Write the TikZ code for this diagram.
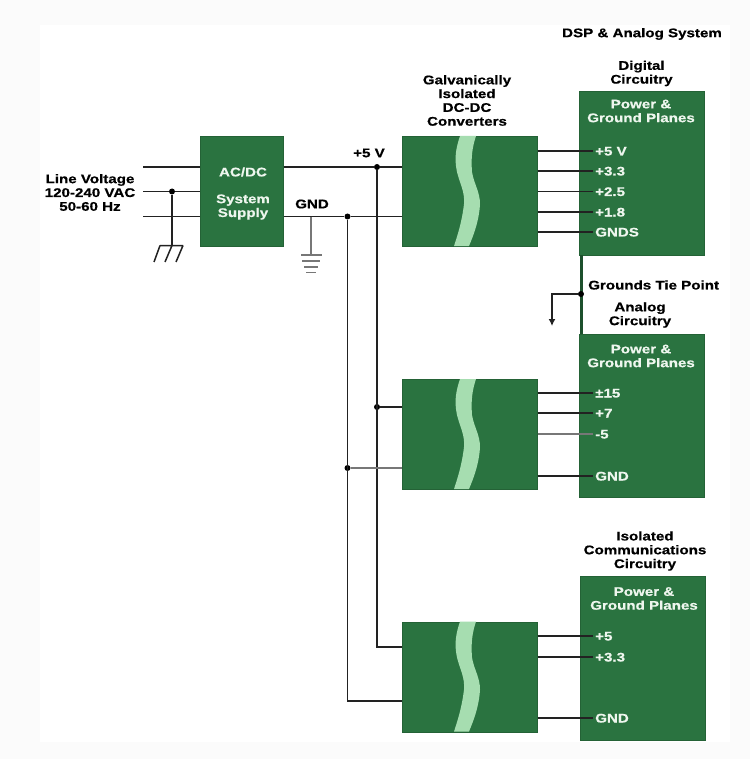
\documentclass[tikz,border=0pt]{standalone}
\usepackage{fontspec}
\setmainfont{Liberation Sans}[BoldFeatures={FakeStretch=1.21,FakeBold=0.6}]
\usetikzlibrary{arrows.meta,calc}
\definecolor{boxgreen}{HTML}{2A7340}
\definecolor{wavegreen}{HTML}{A6DDB0}
\definecolor{softwhite}{HTML}{EEF6EE}
\definecolor{wire}{HTML}{222222}
\definecolor{graywire}{HTML}{777777}
\definecolor{margin}{HTML}{FBFBFB}
\tikzset{
  x=1pt,y=-1pt,
  txt/.style={inner sep=0pt,align=center,text=black,font=\bfseries\fontsize{12.5}{13.8}\selectfont},
  wtxt/.style={txt,text=softwhite},
  pin/.style={wtxt,anchor=west,align=left,text height=9pt,text depth=0pt},
  gbox/.style={fill=boxgreen,draw=boxgreen!85!black,line width=0.5pt,inner sep=0pt,anchor=north west},
  conv/.style={gbox,minimum width=135pt,minimum height=110pt},
  plane/.style={gbox,minimum width=124.5pt,minimum height=163.5pt},
  wireline/.style={draw=wire,line width=1.5pt},
  pinline/.style={wireline,shorten >=2.5pt},
  grayline/.style={draw=graywire,line width=1.6pt},
  tie/.style={draw=boxgreen!70!black,line width=3pt},
  junction/.style={circle,fill=black,inner sep=0pt,minimum size=6pt},
  barrier/.pic={
    \fill[wavegreen] (58,0) .. controls (54,12) and (52,22) .. (55,36)
      .. controls (58,48) and (63,56) .. (62,68)
      .. controls (60,85) and (56,98) .. (52,110)
      -- (67,110) .. controls (72,98) and (77,85) .. (78,68)
      .. controls (78,56) and (72,48) .. (70,36)
      .. controls (69,22) and (70,12) .. (74,0) -- cycle;
  }
}
\begin{document}
\begin{tikzpicture}
\useasboundingbox (0,0) rectangle (750,759);
\fill[margin] (0,0) rectangle (750,759);
\fill[white] (40,25) rectangle (730,742);

% boxes
\node[gbox,minimum width=83pt,minimum height=110pt] (sup) at (200,136) {};
\node[conv] (c1) at (402,136) {};
\node[conv] (c2) at (402,379) {};
\node[conv] (c3) at (402,621.5) {};
\node[plane] (p1) at (579,91) {};
\node[plane] (p2) at (579,333.5) {};
\node[plane] (p3) at (580,576) {};
\pic at (c1.north west) {barrier};
\pic at (c2.north west) {barrier};
\pic at (c3.north west) {barrier};

% box texts
\node[wtxt] (acdc) at (243,172) {AC/DC};
\node[wtxt] (syssup) at (243,207) {System\\Supply};
\node[wtxt] (pg1) at (641,111) {Power \&\\Ground Planes};
\node[wtxt] (pg2) at (641,356) {Power \&\\Ground Planes};
\node[wtxt] (pg3) at (644,598.5) {Power \&\\Ground Planes};

% outside texts
\node[txt] (title) at (642,34) {DSP \& Analog System};
\node[txt] (dig) at (641.5,73.5) {Digital\\Circuitry};
\node[txt] (galv) at (467,100.5) {Galvanically\\Isolated\\DC-DC\\Converters};
\node[txt] (line) at (90,192.5) {Line Voltage\\120-240 VAC\\50-60 Hz};
\node[txt] (v5) at (369,153) {+5 V};
\node[txt] (gndt) at (312,204) {GND};
\node[txt,anchor=west] (gtp) at (588,285) {Grounds Tie Point};
\node[txt] (ana) at (640,315) {Analog\\Circuitry};
\node[txt] (iso) at (645,551) {Isolated\\Communications\\Circuitry};

% pin labels
\node[pin] (a1) at (595,151) {+5 V};
\node[pin] (a2) at (595,171) {+3.3};
\node[pin] (a3) at (595,191.5) {+2.5};
\node[pin] (a4) at (595,212) {+1.8};
\node[pin] (a5) at (595,232) {GNDS};
\node[pin] (b1) at (595,393) {±15};
\node[pin] (b2) at (595,413) {+7};
\node[pin] (b3) at (595,434) {-5};
\node[pin] (b4) at (595,476) {GND};
\node[pin] (d1) at (595,636) {+5};
\node[pin] (d2) at (595,657) {+3.3};
\node[pin] (d3) at (595,718) {GND};

% output connectors
\foreach \n in {a1,a2,a3,a4,a5} \draw[pinline] (c1.east |- \n.west) -- (\n.west);
\foreach \n in {b1,b2,b4} \draw[pinline] (c2.east |- \n.west) -- (\n.west);
\draw[grayline,shorten >=2.5pt] (c2.east |- b3.west) -- (b3.west);
\foreach \n in {d1,d2,d3} \draw[pinline] (c3.east |- \n.west) -- (\n.west);

% mains side
\coordinate (m1) at (143,167);
\coordinate (m2) at (143,191.5);
\coordinate (m3) at (143,216.5);
\draw[wireline] (m1) -- (sup.west |- m1);
\draw[wireline] (m2) -- (sup.west |- m2);
\draw[wireline] (m3) -- (sup.west |- m3);
\node[junction] (j0) at (172,191.5) {};
\coordinate (eg) at (172,245.5);
\draw[wireline] (j0) -- (eg);
\draw[wireline] (160,245.5) -- (183,245.5)
  (160,245.5) -- (154,262) (172,245.5) -- (165,262) (183,245.5) -- (176,262);

% DC side
\node[junction] (j5) at (377,167) {};
\node[junction] (jg) at (347.5,216.5) {};
\node[junction] (j52) at (377,407) {};
\node[junction] (jg2) at (347.5,468) {};
\coordinate (g0) at (311,216.5);
\coordinate (g1) at (311,255);
\draw[wireline] (sup.east |- j5) -- (j5) -- (c1.west |- j5);
\draw[wireline] (sup.east |- jg) -- (jg) -- (c1.west |- jg);
\draw[grayline] (g0) -- (g1);
\draw[grayline] (301,255) -- (322,255) (302,261) -- (320,261) (304,267) -- (318,267) (306,272.5) -- (316,272.5);
\coordinate (t5) at (377,647);
\coordinate (tg) at (347.5,701);
\draw[wireline] (j5) -- (t5) -- (c3.west |- t5);
\draw[wireline] (jg) -- (tg) -- (c3.west |- tg);
\draw[wireline] (j52) -- (c2.west |- j52);
\draw[grayline] (jg2) -- (c2.west |- jg2);

% grounds tie
\coordinate (tt) at (581,254.5);
\coordinate (tb) at (581,333.5);
\draw[tie] (tt) -- (tb);
\node[junction] (jt) at (581,294) {};
\coordinate (tc) at (552,294);
\coordinate (ta) at (552,326);
\draw[wireline,-{Latex[length=7pt,width=7pt]}] (jt) -- (tc) -- (ta);
\end{tikzpicture}
\end{document}
